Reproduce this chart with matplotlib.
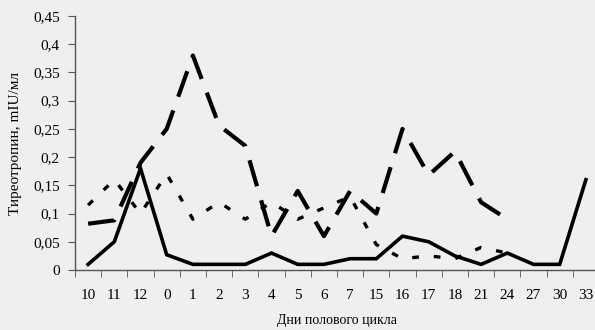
import numpy as np
import matplotlib
matplotlib.use("Agg")
import matplotlib.pyplot as plt

# days of the cycle (category axis)
days = ['10', '11', '12', '0', '1', '2', '3', '4', '5', '6',
        '7', '15', '16', '17', '18', '21', '24', '27', '30', '33']

# TSH, mIU/ml
tsh_solid = [0.01, 0.05, 0.18, 0.027, 0.01, 0.01, 0.01, 0.03, 0.01, 0.01,
             0.02, 0.02, 0.06, 0.05, 0.025, 0.01, 0.03, 0.01, 0.01, 0.16]
tsh_dash = [0.082, 0.088, 0.19, 0.25, 0.38, 0.256, 0.22, 0.06, 0.14, 0.06,
            0.14, 0.10, 0.25, 0.168, 0.21, 0.12, 0.09, None, None, None]
tsh_dot = [0.115, 0.16, 0.10, 0.17, 0.09, 0.12, 0.09, 0.12, 0.09, 0.11,
           0.13, 0.045, 0.02, 0.025, 0.02, 0.04, 0.03, None, None, None]

plt.rcParams['font.family'] = ['Liberation Serif', 'DejaVu Serif']

fig = plt.figure(figsize=(5.95, 3.3), dpi=100)
fig.patch.set_facecolor('#efefef')
ax = fig.add_axes([75 / 595, 60 / 330, 524 / 595, 254 / 330])
ax.set_facecolor('#efefef')

x = np.arange(len(days))
dash = np.array(tsh_dash, dtype=float)
dot = np.array(tsh_dot, dtype=float)

ax.plot(x, tsh_solid, color='black', lw=2.6, solid_joinstyle='miter')
ax.plot(x, dash, color='black', lw=3.0, dashes=(6.5, 3.5))
ax.plot(x, dot, color='black', lw=2.4, dashes=(2, 4.5))

ax.set_xlim(-0.5, len(days) - 0.5)
ax.set_ylim(0, 0.45)

yt = np.arange(0, 0.451, 0.05)
ax.set_yticks(yt)
ax.set_yticklabels(['0'] + [('%g' % v).replace('.', ',') for v in yt[1:]])
ax.set_xticks(x)
ax.set_xticklabels(days)
ax.set_xticks(np.arange(-0.5, len(days)), minor=True)
ax.tick_params(axis='x', which='major', length=0, pad=14, labelsize=11)
ax.tick_params(axis='x', which='minor', length=5, direction='out', color='#555555')
ax.tick_params(axis='y', length=5, direction='out', color='#555555', pad=6, labelsize=11)

for s in ['top', 'right']:
    ax.spines[s].set_visible(False)
for s in ['left', 'bottom']:
    ax.spines[s].set_color('#555555')
    ax.spines[s].set_linewidth(1.0)

ax.set_ylabel('Тиреотропин, mIU/мл', fontsize=11, labelpad=8)
ax.set_xlabel('Дни полового цикла', fontsize=10, labelpad=8)

fig.savefig('out.png', dpi=100, facecolor=fig.get_facecolor())
